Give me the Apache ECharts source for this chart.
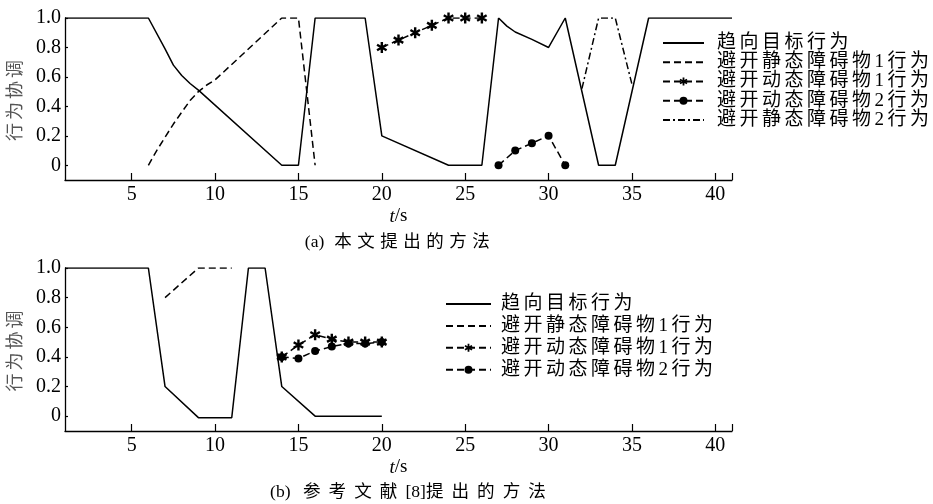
<!DOCTYPE html>
<html>
<head>
<meta charset="utf-8">
<script src="https://cdn.jsdelivr.net/npm/echarts@6/dist/echarts.min.js"></script>
<style>
html,body{margin:0;padding:0;background:#fff;}
#chart{width:933px;height:504px;}
</style>
</head>
<body>
<div id="chart"></div>
<script>
// ---------- data ----------
const xTickValues = [5, 10, 15, 20, 25, 30, 35, 40, 41];
const xLabelValues = [5, 10, 15, 20, 25, 30, 35, 40];
const yTickValues = [0, 0.2, 0.4, 0.6, 0.8, 1.0];

const seriesNamesA = ['趋向目标行为', '避开静态障碍物1行为', '避开动态障碍物1行为', '避开动态障碍物2行为', '避开静态障碍物2行为'];
const seriesNamesB = ['趋向目标行为', '避开静态障碍物1行为', '避开动态障碍物1行为', '避开动态障碍物2行为'];

// (a) 本文提出的方法
const goalA = [[1,1],[6,1],[7,0.79],[7.5,0.68],[8,0.61],[8.5,0.555],[9,0.51],[14,0],[15,0],[16,1],[19,1],[20,0.2],[24,0],[26,0],[27,1],[27.5,0.945],[28,0.905],[29,0.855],[30,0.8],[31,1],[33,0],[34,0],[36,1],[41,1]];
const staticA1 = [[6,0],[6.5,0.1],[7,0.19],[7.5,0.28],[8,0.36],[8.5,0.44],[9,0.5],[9.5,0.545],[10,0.58],[14,1],[15,1],[16,0]];
const dynA1 = [[20,0.8],[21,0.85],[22,0.9],[23,0.95],[24,1],[25,1],[26,1]];
const dynA2 = [[27,0],[28,0.1],[29,0.15],[30,0.2],[31,0]];
const staticA2 = [[32,0.52],[33,1],[34,1],[35,0.55]];

// (b) 参考文献[8]提出的方法
const goalB = [[1,1],[6,1],[7,0.2],[9,-0.01],[11,-0.01],[12,1],[13,1],[14,0.2],[16,0],[20,0]];
const staticB1 = [[7,0.8],[9,1],[11,1]];
const dynB1 = [[14,0.4],[15,0.48],[16,0.55],[17,0.52],[18,0.5],[19,0.5],[20,0.5]];
const dynB2 = [[14,0.4],[15,0.39],[16,0.44],[17,0.47],[18,0.49],[19,0.49],[20,0.5]];

const captionA = '(a) 本文提出的方法';
const captionB = '(b) 参考文献[8]提出的方法';
const yName = '行为协调';

// ---------- letter spacing for CJK text (canvas) ----------
const SPACING = {'19': 3.5, '18': 3, '17.5': 5.5, '17.6': 8};
(function(){
  const proto = CanvasRenderingContext2D.prototype;
  const desc = Object.getOwnPropertyDescriptor(proto, 'font');
  if (!desc || !('letterSpacing' in proto)) return;
  Object.defineProperty(proto, 'font', {
    configurable: true,
    get(){ return desc.get.call(this); },
    set(v){
      desc.set.call(this, v);
      let sp = 0;
      if (/CJK/.test(v)) {
        const m = /(\d+(?:\.\d+)?)px/.exec(v);
        const key = m ? String(parseFloat(m[1])) : '';
        sp = SPACING[key] !== undefined ? SPACING[key] : 0;
      }
      this.letterSpacing = sp + 'px';
    }
  });
})();

// ---------- styles ----------
const SERIF = '"Liberation Serif", "Times New Roman", serif';
const MIXED = '"Liberation Serif", "Noto Sans CJK SC"';
const CJK = '"Noto Sans CJK SC"';
const LW = 1.5;
const DASH = [7, 4];
const DASHDOT = [7, 3, 2, 3];

function asteriskPath(){
  const w = 0.22, parts = [];
  [90, 30, 150].forEach(function(deg){
    const t = deg * Math.PI / 180, c = Math.cos(t), s = Math.sin(t);
    const pts = [[-1,-w],[1,-w],[1,w],[-1,w]].map(function(p){
      return [(p[0]*c - p[1]*s).toFixed(3), (-(p[0]*s + p[1]*c)).toFixed(3)];
    });
    parts.push('M' + pts.map(function(p){return p.join(' ');}).join(' L') + ' Z');
  });
  return 'path://' + parts.join(' ');
}
const STAR = asteriskPath();

function xAxisCfg(idx){
  return {
    gridIndex: idx, type: 'value', min: 1, max: 41,
    axisLine: {show: true, onZero: false, lineStyle: {color: '#000', width: 1.3}},
    axisTick: {show: true, inside: true, length: 7, customValues: xTickValues, lineStyle: {color: '#000', width: 1.2}},
    axisLabel: {customValues: xLabelValues, fontFamily: SERIF, fontSize: 20, color: '#000', margin: 5},
    splitLine: {show: false},
    name: '{i|t}/s', nameLocation: 'middle', nameGap: 27,
    nameTextStyle: {fontFamily: SERIF, fontSize: 19, color: '#000',
      rich: {i: {fontFamily: SERIF, fontSize: 19, fontStyle: 'italic', color: '#000'}}}
  };
}
function yAxisCfg(idx){
  return {
    gridIndex: idx, type: 'value', min: -0.1, max: 1.0,
    axisLine: {show: true, onZero: false, lineStyle: {color: '#000', width: 1.3}},
    axisTick: {show: true, inside: true, length: 3, customValues: yTickValues, lineStyle: {color: '#000', width: 1.2}},
    axisLabel: {customValues: yTickValues, fontFamily: SERIF, fontSize: 20, color: '#000', margin: 4,
      formatter: function(v){ return v === 0 ? '0' : v.toFixed(1); }},
    splitLine: {show: false},
    name: yName, nameLocation: 'middle', nameGap: 38,
    nameTextStyle: {fontFamily: CJK, fontSize: 18, color: '#555'}
  };
}

function lineSeries(name, data, idx, type, symbol, symbolSize){
  const s = {
    name: name, type: 'line', xAxisIndex: idx, yAxisIndex: idx, data: data,
    lineStyle: {color: '#000', width: LW, type: type, cap: 'butt'},
    itemStyle: {color: '#000'},
    symbol: symbol || 'none', symbolSize: symbolSize || 0,
    showSymbol: !!symbol, silent: true, z: 3
  };
  if (symbol === STAR) s.symbolKeepAspect = true;
  return s;
}

const HIDE = {color: 'rgba(0,0,0,0)', borderWidth: 0, opacity: 0};
function legendData(names, withMarker){
  return names.map(function(n){
    return withMarker.indexOf(n) >= 0 ? {name: n} : {name: n, itemStyle: HIDE};
  });
}
const markerNames = [seriesNamesA[2], seriesNamesA[3]];

const option = {
  animation: false,
  backgroundColor: '#fff',
  grid: [
    {left: 65, top: 18, width: 667, height: 162, containLabel: false, outerBoundsMode: 'none'},
    {left: 65, top: 268, width: 667, height: 163, containLabel: false, outerBoundsMode: 'none'}
  ],
  xAxis: [xAxisCfg(0), xAxisCfg(1)],
  yAxis: [yAxisCfg(0), yAxisCfg(1)],
  legend: [
    {
      data: legendData(seriesNamesA, markerNames), orient: 'vertical', left: 657, top: 26.7,
      itemWidth: 41, itemHeight: 10, itemGap: -3.25, selectedMode: false,
      textStyle: {fontFamily: MIXED, fontSize: 19, color: '#000', lineHeight: 20, padding: [0,0,0,8]}
    },
    {
      data: legendData(seriesNamesB, markerNames), orient: 'vertical', left: 440, top: 287.7,
      itemWidth: 45, itemHeight: 10, itemGap: -0.55, selectedMode: false,
      textStyle: {fontFamily: MIXED, fontSize: 19, color: '#000', lineHeight: 20, padding: [0,0,0,5]}
    }
  ],
  series: [
    lineSeries(seriesNamesA[0], goalA, 0, 'solid'),
    lineSeries(seriesNamesA[1], staticA1, 0, DASH),
    lineSeries(seriesNamesA[2], dynA1, 0, DASH, STAR, 11),
    lineSeries(seriesNamesA[3], dynA2, 0, DASH, 'circle', 8),
    lineSeries(seriesNamesA[4], staticA2, 0, DASHDOT),
    lineSeries(seriesNamesB[0], goalB, 1, 'solid'),
    lineSeries(seriesNamesB[1], staticB1, 1, DASH),
    lineSeries(seriesNamesB[2], dynB1, 1, DASH, STAR, 11),
    lineSeries(seriesNamesB[3], dynB2, 1, DASH, 'circle', 8)
  ],
  graphic: [
    {type: 'text', x: 400, y: 242, silent: true,
     style: {text: '{l|' + captionA.slice(0, 3) + '}' + captionA.slice(3),
             align: 'center', verticalAlign: 'middle', fontFamily: MIXED, fontSize: 17.5, fill: '#000',
             rich: {l: {fontFamily: SERIF, fontSize: 17.5, fill: '#000'}}}},
    {type: 'text', x: 412, y: 492, silent: true,
     style: {text: '{l|' + captionB.slice(0, 3) + '}' + captionB.slice(3, 8) + '{l|' + captionB.slice(8, 11) + '}' + captionB.slice(11),
             align: 'center', verticalAlign: 'middle', fontFamily: MIXED, fontSize: 17.6, fill: '#000',
             rich: {l: {fontFamily: SERIF, fontSize: 17.6, fill: '#000'}}}}
  ]
};

const chart = echarts.init(document.getElementById('chart'), null, {renderer: 'canvas'});
chart.setOption(option);
</script>
</body>
</html>
